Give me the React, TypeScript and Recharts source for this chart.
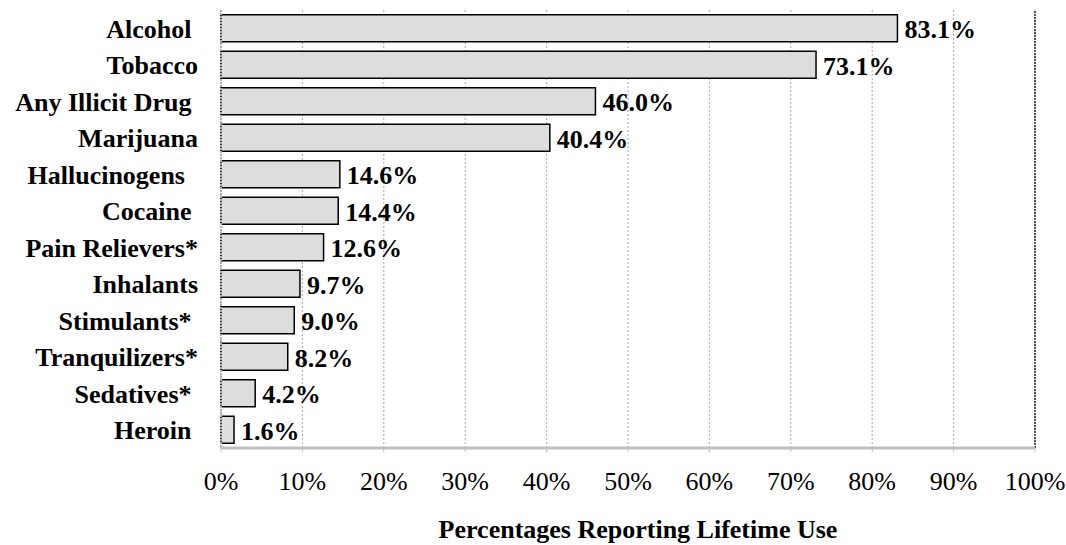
import { BarChart, Bar, XAxis, YAxis, CartesianGrid, ReferenceLine, LabelList } from 'recharts'

// trailing spaces are in the source labels
const substances = [
  'Alcohol ',
  'Tobacco',
  'Any Illicit Drug ',
  'Marijuana',
  'Hallucinogens  ',
  'Cocaine ',
  'Pain Relievers*',
  'Inhalants',
  'Stimulants* ',
  'Tranquilizers*',
  'Sedatives* ',
  'Heroin ',
]
const lifetimeUse = [83.1, 73.1, 46.0, 40.4, 14.6, 14.4, 12.6, 9.7, 9.0, 8.2, 4.2, 1.6]
const xTicks = [0, 10, 20, 30, 40, 50, 60, 70, 80, 90, 100]
const axisTitle = 'Percentages Reporting Lifetime Use'

const data = substances.map((name, i) => ({ name, value: lifetimeUse[i] }))

const FONT = '"Liberation Serif", "Times New Roman", serif'

function CategoryTick(props: any) {
  const { x, y, payload } = props
  return (
    <text
      x={x}
      y={y}
      dy={9.5}
      textAnchor="end"
      fontSize={26}
      fontWeight="bold"
      fontFamily={FONT}
      fill="#000"
      style={{ whiteSpace: 'pre' }}
    >
      {payload.value}
    </text>
  )
}

function ValueLabel(props: any) {
  const { x, y, width, height, value } = props
  return (
    <text
      x={x + width + 7}
      y={y + height / 2 + 10}
      fontSize={26}
      fontWeight="bold"
      fontFamily={FONT}
      fill="#000"
    >
      {Number(value).toFixed(1)}%
    </text>
  )
}

function AxisTitle(props: any) {
  const vb = props.viewBox
  return (
    <text
      x={vb.x + vb.width / 2 + 10}
      y={vb.y + vb.height - 7}
      textAnchor="middle"
      fontSize={26}
      fontWeight="bold"
      fontFamily={FONT}
      fill="#000"
    >
      {axisTitle}
    </text>
  )
}

export default function App() {
  return (
    <div style={{ position: 'absolute', left: 0, top: 0, width: 1066, height: 545, background: '#fff' }}>
      <BarChart
        width={1066}
        height={545}
        data={data}
        layout="vertical"
        margin={{ top: 10, right: 31, left: 0, bottom: 0 }}
        barCategoryGap="13%"
        style={{ fontFamily: FONT }}
      >
        <CartesianGrid horizontal={false} stroke="#a8a8a8" strokeDasharray="2 2" />
        <XAxis
          type="number"
          domain={[0, 100]}
          ticks={xTicks}
          tickFormatter={(v) => `${v}%`}
          height={97}
          tickSize={4}
          tickMargin={20}
          tick={{ fill: '#000', fontSize: 26, fontFamily: FONT }}
          tickLine={{ stroke: '#c0c0c0' }}
          axisLine={{ stroke: '#c0c0c0', strokeWidth: 3 }}
          label={{ content: AxisTitle }}
        />
        <XAxis
          xAxisId="top"
          orientation="top"
          type="number"
          domain={[0, 100]}
          height={0}
          tick={false}
          tickLine={false}
          axisLine={{ stroke: '#000', strokeWidth: 1.5 }}
        />
        <YAxis
          type="category"
          dataKey="name"
          width={221}
          tickSize={0}
          tickMargin={23}
          tick={<CategoryTick />}
          tickLine={false}
          axisLine={{ stroke: '#b0b0b0', strokeWidth: 2, strokeDasharray: '2 1' }}
        />
        <ReferenceLine x={100} stroke="#555" strokeWidth={2} strokeDasharray="2 1" />
        <Bar dataKey="value" fill="#dddddd" stroke="#000" strokeWidth={1.5} isAnimationActive={false}>
          <LabelList dataKey="value" content={ValueLabel} />
        </Bar>
      </BarChart>
    </div>
  )
}
